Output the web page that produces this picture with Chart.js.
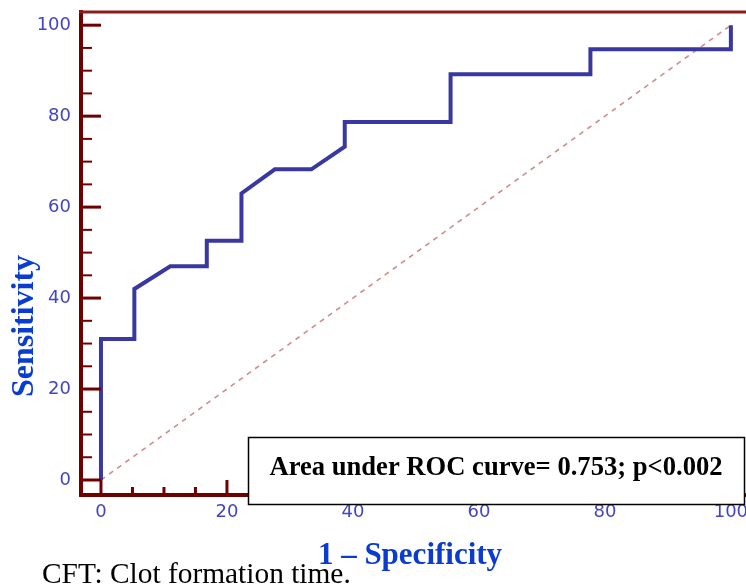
<!DOCTYPE html>
<html>
<head>
<meta charset="utf-8">
<script src="https://cdn.jsdelivr.net/npm/chart.js@4.4.0/dist/chart.umd.min.js"></script>
<style>
  html, body { margin: 0; padding: 0; background: #fff; overflow: hidden; }
</style>
</head>
<body>
<canvas id="roc" width="746" height="588"></canvas>
<script>
// ROC curve points (1 - specificity, sensitivity)
const fpr = [0, 0, 5.3, 5.3, 11, 16.8, 16.8, 22.3, 22.3, 27.6, 33.4, 38.7, 38.7, 55.5, 55.5, 77.7, 77.7, 100, 100];
const tpr = [0, 31, 31, 42, 47, 47, 52.6, 52.6, 63, 68.3, 68.3, 73.3, 78.7, 78.7, 89.2, 89.2, 94.7, 94.7, 100];
// chance line
const refX = [0, 100];
const refY = [0, 100];

const xTicks = [0, 20, 40, 60, 80, 100];
const yTicks = [0, 20, 40, 60, 80, 100];
const minorStep = 5;

const axisColor = '#6e0000';
const labelColor = '#4444c4';
const titleColor = '#0b3cd0';

// no extra room for edge labels, chart area sits where the figure has it
const noPad = (scale) => {
  scale.paddingTop = 0;
  scale.paddingBottom = 0;
  scale.paddingLeft = 0;
  scale.paddingRight = 0;
};

// tick marks, top frame line, titles, footnote and AUC box
const decorations = {
  id: 'decorations',
  afterDatasetsDraw(chart) {
    const { ctx, chartArea, scales: { x, y } } = chart;
    ctx.save();
    ctx.strokeStyle = axisColor;
    // y tick marks point into the plot
    for (let v = 0; v <= 100; v += minorStep) {
      const py = y.getPixelForValue(v);
      const major = v % 20 === 0;
      ctx.lineWidth = major ? 3 : 2;
      ctx.beginPath();
      ctx.moveTo(chartArea.left, py);
      ctx.lineTo(chartArea.left + (major ? 20 : 11), py);
      ctx.stroke();
    }
    // x tick marks point up
    for (let v = 0; v <= 100; v += minorStep) {
      const px = x.getPixelForValue(v);
      const major = v % 20 === 0;
      ctx.lineWidth = 3;
      ctx.beginPath();
      ctx.moveTo(px, chartArea.bottom);
      ctx.lineTo(px, chartArea.bottom - (major ? 15 : 8));
      ctx.stroke();
    }
    // top frame line
    ctx.strokeStyle = '#8a1c1c';
    ctx.lineWidth = 3;
    ctx.beginPath();
    ctx.moveTo(chartArea.left - 2, chartArea.top);
    ctx.lineTo(chart.width, chartArea.top);
    ctx.stroke();
    ctx.restore();
  },
  afterDraw(chart) {
    const { ctx } = chart;
    ctx.save();
    // AUC box
    ctx.fillStyle = '#fff';
    ctx.fillRect(248, 437, 497, 68);
    ctx.strokeStyle = '#000';
    ctx.lineWidth = 1.5;
    ctx.strokeRect(248.5, 437.5, 496, 67);
    ctx.fillStyle = '#000';
    ctx.font = 'bold 26.6px "Liberation Serif", "Times New Roman", serif';
    ctx.textAlign = 'center';
    ctx.textBaseline = 'alphabetic';
    ctx.fillText('Area under ROC curve= 0.753; p<0.002', 496, 475);

    // axis titles
    ctx.fillStyle = titleColor;
    ctx.font = 'bold 31px "Liberation Serif", "Times New Roman", serif';
    ctx.fillText('1 \u2013 Specificity', 410, 564);
    ctx.save();
    ctx.translate(33, 326);
    ctx.rotate(-Math.PI / 2);
    ctx.font = 'bold 32px "Liberation Serif", "Times New Roman", serif';
    ctx.fillText('Sensitivity', 0, 0);
    ctx.restore();

    // footnote
    ctx.fillStyle = '#000';
    ctx.font = '29.4px "Liberation Serif", "Times New Roman", serif';
    ctx.textAlign = 'left';
    ctx.fillText('CFT: Clot formation time.', 42, 583);
    ctx.restore();
  }
};

new Chart(document.getElementById('roc'), {
  type: 'scatter',
  data: {
    datasets: [
      {
        label: 'Chance',
        data: refX.map((v, i) => ({ x: v, y: refY[i] })),
        showLine: true,
        borderColor: 'rgba(200, 120, 120, 0.85)',
        borderWidth: 1.6,
        borderDash: [5, 5],
        pointRadius: 0,
        order: 2,
      },
      {
        label: 'CFT',
        data: fpr.map((v, i) => ({ x: v, y: tpr[i] })),
        showLine: true,
        borderColor: '#3838a0',
        borderWidth: 4,
        pointRadius: 0,
        order: 1,
      },
    ],
  },
  options: {
    responsive: false,
    animation: false,
    layout: { padding: { top: 12, right: 0, left: 0, bottom: 0 } },
    scales: {
      x: {
        type: 'linear',
        min: -3.17,
        max: 102.4,
        afterBuildTicks: (scale) => { scale.ticks = xTicks.map(v => ({ value: v })); },
        afterFit: (scale) => { scale.height = 93; noPad(scale); },
        ticks: {
          color: labelColor,
          font: { family: '"DejaVu Sans", sans-serif', size: 18 },
          padding: 7,
          maxRotation: 0,
          autoSkip: false,
        },
        grid: { display: true, drawOnChartArea: false, drawTicks: false },
        border: { color: axisColor, width: 4 },
      },
      y: {
        type: 'linear',
        min: -3.3,
        max: 102.9,
        afterBuildTicks: (scale) => { scale.ticks = yTicks.map(v => ({ value: v })); },
        afterFit: (scale) => { scale.width = 81; noPad(scale); },
        ticks: {
          color: labelColor,
          font: { family: '"DejaVu Sans", sans-serif', size: 18 },
          padding: 10,
          autoSkip: false,
        },
        grid: { display: true, drawOnChartArea: false, drawTicks: false },
        border: { color: axisColor, width: 4 },
      },
    },
    plugins: {
      legend: { display: false },
      tooltip: { enabled: false },
    },
  },
  plugins: [decorations],
});
</script>
</body>
</html>
